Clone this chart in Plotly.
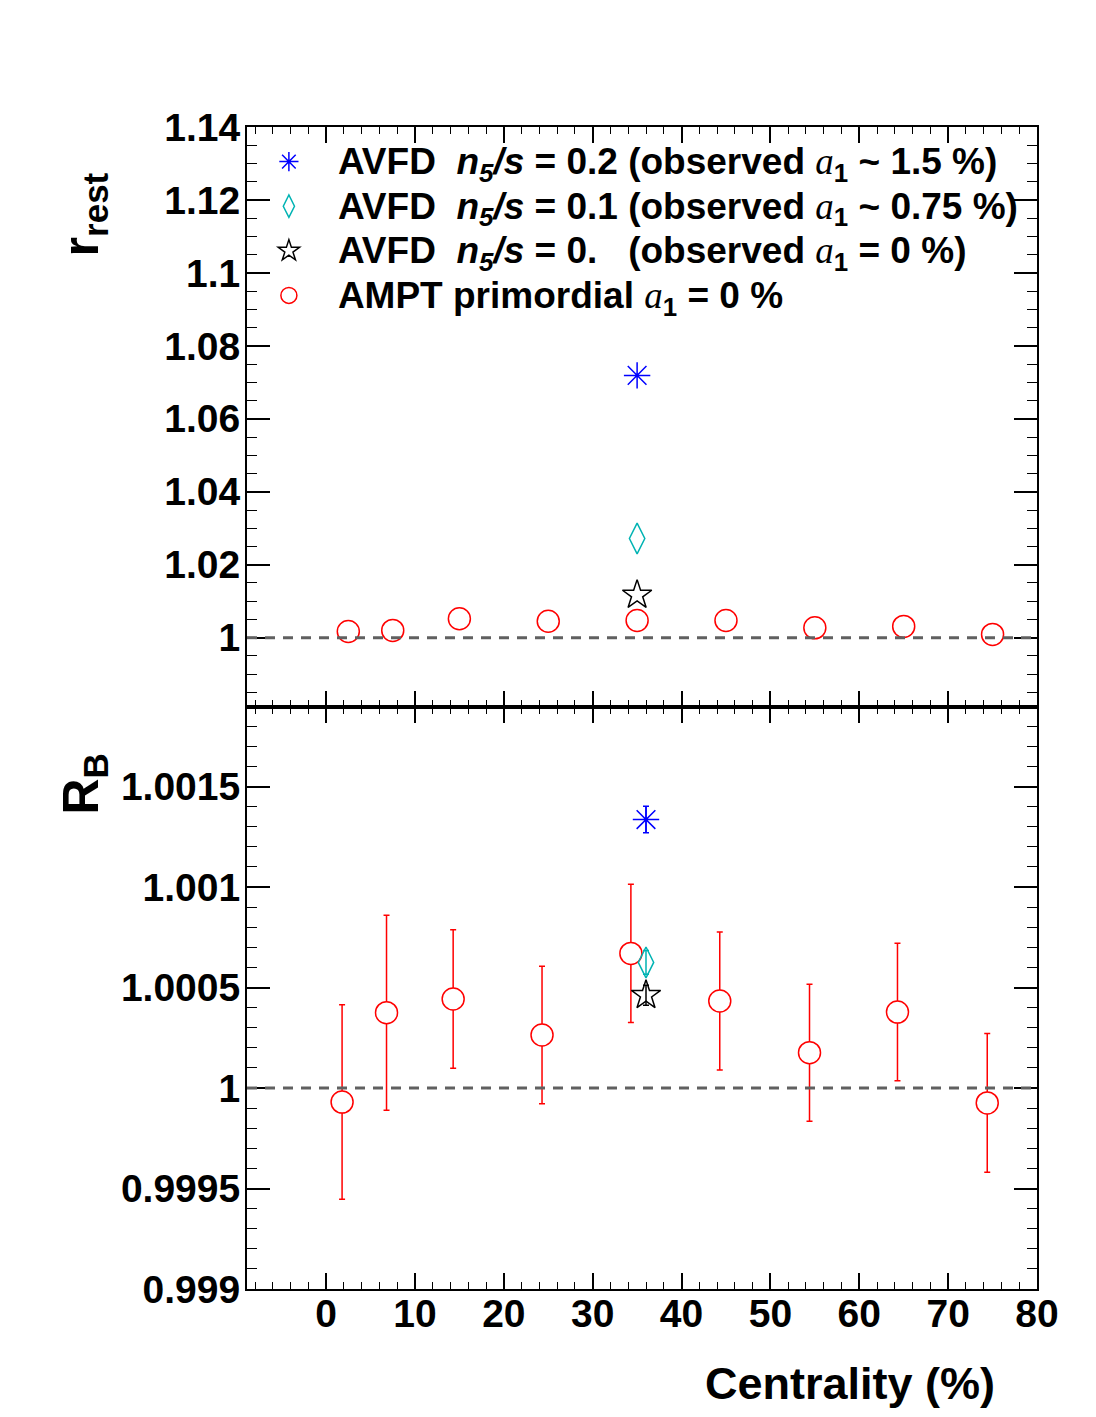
import plotly.graph_objects as go

# ---------------- data ----------------
cent_top = [2.5, 7.5, 15, 25, 35, 45, 55, 65, 75]
ampt_rrest = [1.0017, 1.0020, 1.0052, 1.0045, 1.0047, 1.0047, 1.0027, 1.0031, 1.0009]
avfd_cent_top = [35]
avfd02_rrest = [1.0719]
avfd01_rrest = [1.0272]
avfd00_rrest = [1.0117]

cent_bot = [1.8, 6.8, 14.3, 24.3, 34.3, 44.3, 54.4, 64.3, 74.4]
ampt_RB = [0.999930, 1.000375, 1.000443, 1.000264, 1.000670, 1.000433, 1.000176, 1.000378, 0.999926]
ampt_RB_err = [0.000484, 0.000485, 0.000344, 0.000342, 0.000344, 0.000343, 0.000341, 0.000342, 0.000345]
avfd_cent_bot = [36.0]
avfd02_RB = [1.001336]
avfd02_RB_err = [0.000066]
avfd01_RB = [1.000625]
avfd01_RB_err = [0.000059]
avfd00_RB = [1.000462]
avfd00_RB_err = [0.000050]

x_ticks = [0, 10, 20, 30, 40, 50, 60, 70, 80]
top_ticks = [1.0, 1.02, 1.04, 1.06, 1.08, 1.1, 1.12, 1.14]
top_ticklabels = ["1", "1.02", "1.04", "1.06", "1.08", "1.1", "1.12", "1.14"]
bot_ticks = [0.999, 0.9995, 1.0, 1.0005, 1.001, 1.0015]
bot_ticklabels = ["0.999", "0.9995", "1", "1.0005", "1.001", "1.0015"]

A1 = "<span style='font-family:Liberation Serif;font-weight:normal'><i>a</i></span><sub>1</sub>"
legend_texts = [
    "AVFD&nbsp;&nbsp;<i>n<sub>5</sub>/s</i> = 0.2 (observed " + A1 + " ~ 1.5 %)",
    "AVFD&nbsp;&nbsp;<i>n<sub>5</sub>/s</i> = 0.1 (observed " + A1 + " ~ 0.75 %)",
    "AVFD&nbsp;&nbsp;<i>n<sub>5</sub>/s</i> = 0.&nbsp;&nbsp;&nbsp;(observed " + A1 + " = 0 %)",
    "AMPT primordial " + A1 + " = 0 %",
]
legend_names = ["<span style='font-size:37px'>" + t + "</span>" for t in legend_texts]

BLUE = "#0000ff"
CYAN = "#00b3b3"
BLACK = "#000000"
RED = "#ff0000"
FONT = "Liberation Sans"

fig = go.Figure()

# ---------------- top panel ----------------
fig.add_trace(go.Scatter(x=avfd_cent_top, y=avfd02_rrest, mode="markers", name=legend_names[0],
                         marker=dict(symbol="asterisk-open", size=22, color=BLUE, line=dict(color=BLUE, width=1.5)),
                         xaxis="x2", yaxis="y2"))
fig.add_trace(go.Scatter(x=avfd_cent_top, y=avfd01_rrest, mode="markers", name=legend_names[1],
                         marker=dict(symbol="diamond-tall-open", size=22, color=CYAN, line=dict(color=CYAN, width=1.5)),
                         xaxis="x2", yaxis="y2"))
fig.add_trace(go.Scatter(x=avfd_cent_top, y=avfd00_rrest, mode="markers", name=legend_names[2],
                         marker=dict(symbol="star-open", size=22, color=BLACK, line=dict(color=BLACK, width=1.5)),
                         xaxis="x2", yaxis="y2"))
fig.add_trace(go.Scatter(x=cent_top, y=ampt_rrest, mode="markers", name=legend_names[3],
                         marker=dict(symbol="circle-open", size=22, color=RED, line=dict(color=RED, width=1.5)),
                         xaxis="x2", yaxis="y2"))

# ---------------- bottom panel ----------------
fig.add_trace(go.Scatter(x=cent_bot, y=ampt_RB, mode="markers", showlegend=False,
                         error_y=dict(type="data", array=ampt_RB_err, color=RED, thickness=1.5, width=3),
                         marker=dict(symbol="circle", size=22, color="white", line=dict(color=RED, width=1.5)),
                         xaxis="x", yaxis="y"))
fig.add_trace(go.Scatter(x=avfd_cent_bot, y=avfd02_RB, mode="markers", showlegend=False,
                         error_y=dict(type="data", array=avfd02_RB_err, color=BLUE, thickness=1.5, width=3),
                         marker=dict(symbol="asterisk-open", size=22, color=BLUE, line=dict(color=BLUE, width=1.5)),
                         xaxis="x", yaxis="y"))
fig.add_trace(go.Scatter(x=avfd_cent_bot, y=avfd01_RB, mode="markers", showlegend=False,
                         error_y=dict(type="data", array=avfd01_RB_err, color=CYAN, thickness=1.5, width=3),
                         marker=dict(symbol="diamond-tall-open", size=22, color=CYAN, line=dict(color=CYAN, width=1.5)),
                         xaxis="x", yaxis="y"))
fig.add_trace(go.Scatter(x=avfd_cent_bot, y=avfd00_RB, mode="markers", showlegend=False,
                         error_y=dict(type="data", array=avfd00_RB_err, color=BLACK, thickness=1.5, width=3),
                         marker=dict(symbol="star-open", size=22, color=BLACK, line=dict(color=BLACK, width=1.5)),
                         xaxis="x", yaxis="y"))

split = 582 / 1162

tickfont = dict(family=FONT, size=39, color="black", weight="bold")
xcommon = dict(range=[-8.9, 80], showgrid=False, zeroline=False, showline=True, linecolor="black", linewidth=2,
               mirror="allticks", ticks="inside", ticklen=16, tickwidth=1.5, tickcolor="black",
               tickvals=x_ticks, ticktext=[str(v) for v in x_ticks],
               minor=dict(dtick=2, tick0=0, ticks="inside", ticklen=7, tickwidth=1.2, tickcolor="black"))
ycommon = dict(showgrid=False, zeroline=False, showline=True, linecolor="black", linewidth=2,
               mirror="allticks", ticks="inside", ticklen=23, tickwidth=1.5, tickcolor="black", tickfont=tickfont,
               ticklabelstandoff=-3)

fig.update_layout(
    width=1096, height=1417,
    margin=dict(l=247, r=59, t=127, b=128),
    paper_bgcolor="white", plot_bgcolor="white",
    font=dict(family=FONT, color="black"),
    xaxis=dict(**xcommon, anchor="y", domain=[0, 1], tickfont=tickfont, ticklabelstandoff=-11),
    xaxis2=dict(**xcommon, anchor="y2", domain=[0, 1], matches="x", showticklabels=False),
    yaxis=dict(**ycommon, domain=[0, split], range=[0.999, 1.001896],
               tickvals=bot_ticks, ticktext=bot_ticklabels,
               minor=dict(dtick=0.0001, tick0=0.999, ticks="inside", ticklen=10, tickwidth=1.2, tickcolor="black")),
    yaxis2=dict(**ycommon, domain=[split, 1], range=[0.981, 1.14],
                tickvals=top_ticks, ticktext=top_ticklabels,
                minor=dict(dtick=0.005, tick0=1.0, ticks="inside", ticklen=10, tickwidth=1.2, tickcolor="black")),
    showlegend=True,
    legend=dict(x=-0.009, y=0.9937, xanchor="left", yanchor="top", bgcolor="rgba(0,0,0,0)",
                font=dict(family=FONT, size=32, color="black", weight="bold"),
                itemwidth=88, tracegroupgap=0),
    shapes=[
        dict(type="line", xref="x domain", yref="y2", x0=0, x1=1, y0=1, y1=1,
             line=dict(color="#606060", width=3, dash="10px,8px"), layer="above"),
        dict(type="line", xref="x domain", yref="y", x0=0, x1=1, y0=1, y1=1,
             line=dict(color="#606060", width=3, dash="10px,8px"), layer="above"),
    ],
    annotations=[
        dict(text="Centrality (%)", xref="paper", yref="paper", x=0.9494, y=-0.0809,
             xanchor="right", yanchor="middle", showarrow=False,
             font=dict(family=FONT, size=45, color="black", weight="bold")),
        dict(text="r<sub>rest</sub>", xref="paper", yref="paper", x=-0.2057, y=0.9252,
             xanchor="center", yanchor="middle", showarrow=False, textangle=-90,
             font=dict(family=FONT, size=50, color="black", weight="bold")),
        dict(text="R<sub>B</sub>", xref="paper", yref="paper", x=-0.2057, y=0.4346,
             xanchor="center", yanchor="middle", showarrow=False, textangle=-90,
             font=dict(family=FONT, size=50, color="black", weight="bold")),
    ],
)

fig.write_html("out.html")
